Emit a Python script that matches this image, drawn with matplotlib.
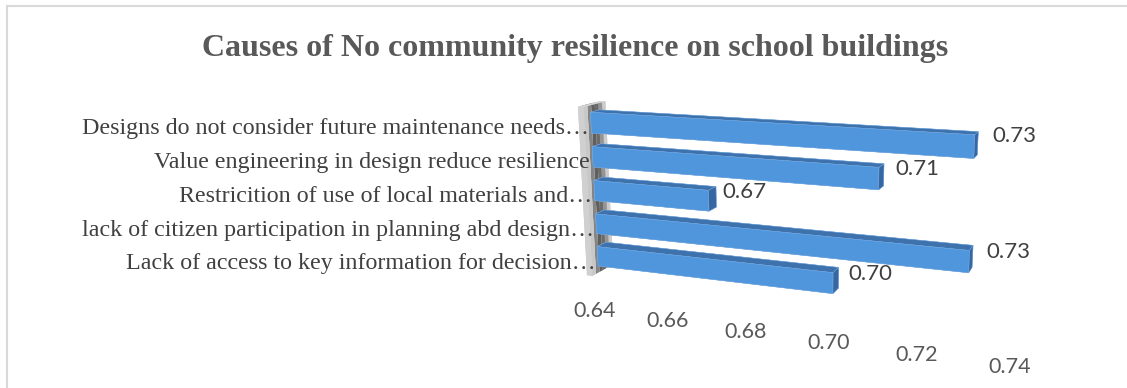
import matplotlib
matplotlib.use("Agg")
import matplotlib.pyplot as plt
from matplotlib.lines import Line2D
from mpl_toolkits.mplot3d import proj3d
import numpy as np

# chart data, listed bottom-up (same order the bars are stacked)
causes = [
    "Lack of access to key information for decision…",
    "lack of citizen participation in planning abd design…",
    "Restricition of use of local materials and…",
    "Value engineering in design reduce resilience",
    "Designs do not consider future maintenance needs…",
]
scores = [0.70, 0.73, 0.67, 0.71, 0.73]
ticks = [0.64, 0.66, 0.68, 0.70, 0.72, 0.74]
title = "Causes of No community resilience on school buildings"

x_min, x_max = 0.64, 0.74

fig = plt.figure(figsize=(11.27, 3.88), dpi=100)
fig.patch.set_facecolor("white")

# big square 3d axes, mostly off-canvas, so the box can be placed freely
ax = fig.add_axes([0.3400, -0.5897, 0.7098, 2.0619], projection="3d",
                  computed_zorder=False)
ax.patch.set_alpha(0)
ax.set_proj_type("persp", focal_length=0.2272)
ax.view_init(elev=14, azim=-70)
ax.set_box_aspect((410, 40, 168), zoom=0.588)
ax.set_axis_off()

n = len(scores)
zpos = np.arange(n)
bar_h = 0.6
bar_y0, bar_d = 0.29, 0.42

# side wall at the start of the value axis, sliced in depth for a
# light-dark-light metallic look
wall_t = 0.0015
wall_shades = ["#c8c8c8", "#858585", "#5f5f5f", "#6b6b6b", "#949494", "#cccccc"]
k = len(wall_shades)
wall_colors = []
for c in wall_shades:
    # bottom, top, front, back, left, right
    wall_colors += ["#bdbdbd", "#d6d6d6", "#d0d0d0", c, c, c]
ax.bar3d(np.full(k, x_min - wall_t), np.arange(k) / k, np.full(k, -0.5),
         np.full(k, wall_t), np.full(k, 1 / k), np.full(k, n),
         color=wall_colors, shade=False, linewidth=0)

# faces per bar: bottom, top, front, back, left, right
bar_faces = ["#3d6ea8", "#3e72ad", "#5096dc", "#5096dc", "#5096dc", "#3767a0"]
ax.bar3d(np.full(n, x_min), np.full(n, bar_y0), zpos - bar_h / 2,
         np.array(scores) - x_min, np.full(n, bar_d), np.full(n, bar_h),
         color=bar_faces * n, shade=False, edgecolor="#7fb0e6", linewidth=0.3)

ax.set_xlim(x_min, x_max)
ax.set_ylim(0, 1)
ax.set_zlim(-0.5, n - 0.5)

# labels: project 3d anchor points once, then place as flat 2d text
M = ax.get_proj()


def label(x, y, z, s, **kw):
    px, py, _ = proj3d.proj_transform(x, y, z, M)
    ax.text2D(px, py, s, transform=ax.transData, **kw)


for z, name, v in zip(zpos, causes, scores):
    label(x_min + 0.001, 0, z - 0.1, name, ha="right", va="center",
          family="Liberation Serif", fontsize=17.3, color="#404040")
    label(v + 0.0035, bar_y0, z + 0.3, f"{v:.2f}", ha="left", va="center",
          family="Lato", fontsize=16, color="#404040")

for t in ticks:
    label(t, 0, -1.6, f"{t:.2f}", ha="center", va="center",
          family="Lato", fontsize=15.5, color="#595959")

fig.text(0.51, 0.874, title, ha="center", va="center",
         family="Liberation Serif", fontweight="bold", fontsize=23,
         color="#595959")

# chart area frame (left and top edges only visible)
fx, fy = 6.5 / 1127, 1 - 5.5 / 388
fig.add_artist(Line2D([fx, fx], [0, fy], color="#d9d9d9", lw=1.5))
fig.add_artist(Line2D([fx, 1], [fy, fy], color="#d9d9d9", lw=1.5))

fig.savefig("out.png", dpi=100)
